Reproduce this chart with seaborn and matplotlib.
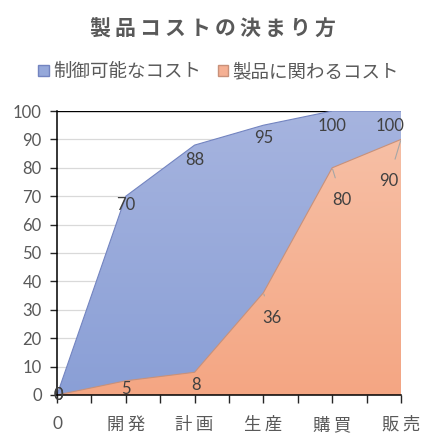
import numpy as np
import pandas as pd
import matplotlib
matplotlib.use("Agg")
import matplotlib.pyplot as plt
from matplotlib.colors import LinearSegmentedColormap
import seaborn as sns

# data
stages = ["0", "開発", "計画", "生産", "購買", "販売"]
controllable = [0, 70, 88, 95, 100, 100]
product_cost = [0, 5, 8, 36, 80, 90]
series_names = ["制御可能なコスト", "製品に関わるコスト"]
title = "製品コストの決まり方"

sns.set_style("white")
CJK = ['Noto Sans CJK JP', 'DejaVu Sans']
NUM = ['Lato', 'DejaVu Sans']
plt.rcParams['font.family'] = CJK

df = pd.DataFrame({"pos": np.arange(len(stages)),
                   series_names[0]: controllable,
                   series_names[1]: product_cost})

fig = plt.figure(figsize=(4.29, 4.43), dpi=100)
ax = fig.add_axes([0.1329, 0.1084, 0.8018, 0.641])

TXT = "#595959"


def gradient_area(ax, x, y, top_col, bot_col, edge_col, z):
    poly = ax.fill_between(x, 0, y, facecolor="none", edgecolor="none", zorder=z)
    cmap = LinearSegmentedColormap.from_list("g", [bot_col, top_col])
    grad = np.linspace(0, 1, 256).reshape(-1, 1)
    im = ax.imshow(grad, cmap=cmap, origin="lower", aspect="auto",
                   extent=[0, len(x) - 1, 0, 100], zorder=z)
    im.set_clip_path(poly.get_paths()[0], transform=ax.transData)
    sns.lineplot(x=x, y=y, ax=ax, color=edge_col, lw=0.8, zorder=z + 0.1)


# grid + top line
for g in range(10, 100, 10):
    ax.axhline(g, color="#d9d9d9", lw=0.9, zorder=0)
ax.axhline(100, color="black", lw=1.0, zorder=0.5)

gradient_area(ax, df["pos"], df[series_names[0]], "#a6b4df", "#8a9fd6", "#7384c0", 2)
gradient_area(ax, df["pos"], df[series_names[1]], "#f7c2a9", "#f4a683", "#c8917a", 3)

ax.set_xlim(0, len(stages) - 1)
ax.set_ylim(0, 100)
ax.set_yticks(range(0, 101, 10))
ax.set_xticks(df["pos"])
ax.set_xticks(np.arange(0.5, len(stages) - 1, 1), minor=True)
ax.set_xticklabels(["\u2009".join(s) for s in stages])
ax.tick_params(axis="y", labelsize=12, labelcolor=TXT, length=5, width=1,
               direction="out", left=True, pad=6)
ax.tick_params(axis="x", which="both", labelsize=12.5, labelcolor=TXT, length=6, width=1,
               direction="out", bottom=True, pad=9)
for lbl in ax.get_yticklabels():
    lbl.set_fontfamily(NUM)
for lbl in ax.get_xticklabels():
    lbl.set_fontfamily(CJK)
ax.get_xticklabels()[0].set_fontfamily(NUM)
for s in ["top", "right"]:
    ax.spines[s].set_visible(False)
for s in ["left", "bottom"]:
    ax.spines[s].set_color("black")
    ax.spines[s].set_linewidth(1.1)
    ax.spines[s].set_zorder(5)
ax.set_xlabel("")
ax.set_ylabel("")

# data labels (offsets in points)
LBL = "#404040"
blue_off = [(1, 0), (0, -6), (0, -11), (0, -9), (0, -11), (-8, -11)]
for i, v in enumerate(controllable):
    ax.annotate(str(v), (i, v), xytext=blue_off[i], textcoords="offset points",
                ha="center", va="center", fontsize=12, color=LBL, zorder=6,
                family=NUM, annotation_clip=False)
orange_off = [(1, 0), (0, -6), (1, -9), (6, -18), (7, -23), (-9, -30)]
leader = [False, False, False, True, True, True]
for i, v in enumerate(product_cost):
    ap = dict(arrowstyle="-", color="#a6a6a6", lw=0.8, shrinkA=8, shrinkB=1) if leader[i] else None
    ax.annotate(str(v), (i, v), xytext=orange_off[i], textcoords="offset points",
                ha="center", va="center", fontsize=12, color=LBL, zorder=6,
                family=NUM, arrowprops=ap, annotation_clip=False)

# title and legend
fig.text(0.497, 0.934, "\u2009".join(title), ha="center", va="center",
         fontsize=15, fontweight="bold", color=TXT, family=CJK)
handles = [plt.Rectangle((0, 0), 1, 1, facecolor="#95a8da", edgecolor="#7384c0"),
           plt.Rectangle((0, 0), 1, 1, facecolor="#f5b093", edgecolor="#c8917a")]
fig.legend(handles, series_names, loc="center", bbox_to_anchor=(0.51, 0.837), ncol=2,
           frameon=False, fontsize=13.3, labelcolor=TXT, handlelength=0.55,
           handleheight=0.55, handletextpad=0.25, columnspacing=0.9)

fig.savefig("out.png", dpi=100, facecolor="white")
